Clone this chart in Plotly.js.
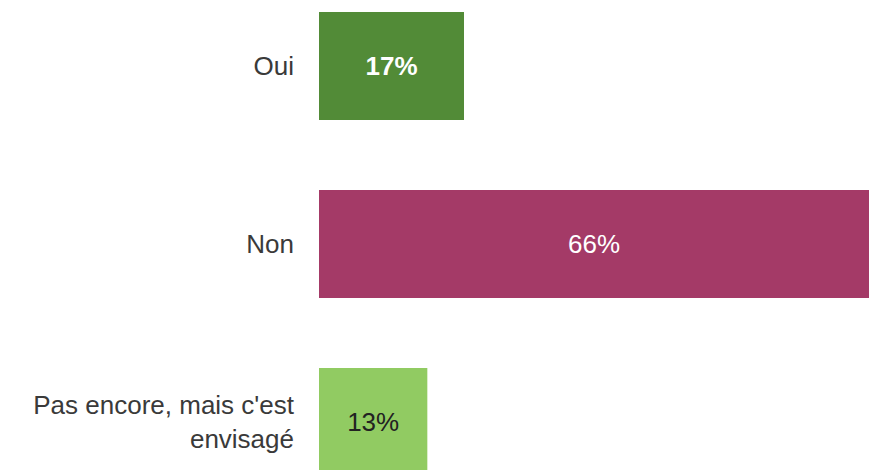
<!DOCTYPE html>
<html>
<head>
<meta charset="utf-8">
<script src="https://cdn.plot.ly/plotly-3.0.1.min.js"></script>
<style>html,body{margin:0;padding:0;background:#fff;}#chart{width:869px;height:470px;}</style>
</head>
<body>
<div id="chart"></div>
<script>
const categories = ["Oui", "Non", "Pas encore, mais c'est<br>envisagé"];
const values = [17.4, 66, 13];
const barColors = ["#528b37", "#a43a67", "#91cb62"];
const labelColors = ["#ffffff", "#ffffff", "#222222"];
const labelWeights = ["bold", "normal", "normal"];

const trace = {
  type: "bar",
  orientation: "h",
  y: categories,
  x: values,
  marker: {color: barColors, line: {width: 0}},
  width: 0.607,
  text: values.map(v => Math.round(v) + "%"),
  textposition: "inside",
  insidetextanchor: "middle",
  textangle: 0,
  textfont: {family: "Liberation Sans, Arial, sans-serif", size: 26, color: labelColors, weight: labelWeights},
  hoverinfo: "none",
  cliponaxis: false
};

const layout = {
  width: 869,
  height: 470,
  margin: {l: 319, r: 0, t: 0, b: 0, pad: 0},
  paper_bgcolor: "#ffffff",
  plot_bgcolor: "#ffffff",
  showlegend: false,
  font: {family: "Liberation Sans, Arial, sans-serif", size: 26, color: "#3a3a3a"},
  xaxis: {range: [0, 66], visible: false, showgrid: false, zeroline: false, fixedrange: true},
  yaxis: {
    type: "category",
    categoryorder: "array",
    categoryarray: categories,
    range: [2.270, -0.371],
    showgrid: false, zeroline: false, showline: false,
    ticks: "", ticklabelstandoff: 24,
    tickfont: {family: "Liberation Sans, Arial, sans-serif", size: 26, color: "#3a3a3a"},
    fixedrange: true
  }
};

Plotly.newPlot("chart", [trace], layout, {displayModeBar: false, staticPlot: true});
</script>
</body>
</html>
